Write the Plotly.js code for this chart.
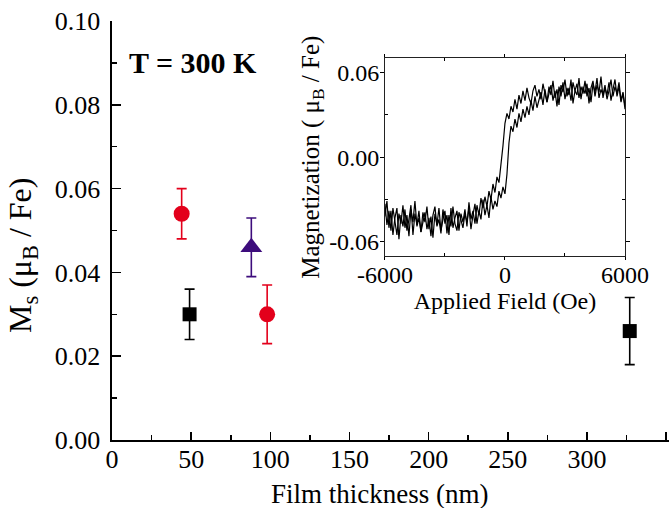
<!DOCTYPE html>
<html>
<head>
<meta charset="utf-8">
<script src="https://cdn.plot.ly/plotly-3.0.1.min.js"></script>
<style>
  html, body { margin: 0; padding: 0; background: #ffffff; overflow: hidden; }
  #chart { width: 669px; height: 508px; }
</style>
</head>
<body>
<div id="chart"></div>
<script>
// ---- Main panel data ----
const squareThickness = [49, 327];
const squareMs = [0.030, 0.026];
const squareErr = [0.006, 0.008];

const circleThickness = [44, 98];
const circleMs = [0.054, 0.030];
const circleErr = [0.006, 0.007];

const triangleThickness = [88];
const triangleMs = [0.046];
const triangleErrPlus = [0.007];
const triangleErrMinus = [0.007];

// ---- Inset: hysteresis loop M(H) ----
const field = [
  -6000,-5900,-5800,-5700,-5600,-5500,-5400,-5300,-5200,-5100,
  -5000,-4900,-4800,-4700,-4600,-4500,-4400,-4300,-4200,-4100,
  -4000,-3900,-3800,-3700,-3600,-3500,-3400,-3300,-3200,-3100,
  -3000,-2900,-2800,-2700,-2600,-2500,-2400,-2300,-2200,-2100,
  -2000,-1900,-1800,-1700,-1600,-1500,-1400,-1300,-1200,-1100,
  -1000,-900,-800,-700,-600,-500,-400,-300,-200,-100,
  0,100,200,300,400,500,600,700,800,900,
  1000,1100,1200,1300,1400,1500,1600,1700,1800,1900,
  2000,2100,2200,2300,2400,2500,2600,2700,2800,2900,
  3000,3100,3200,3300,3400,3500,3600,3700,3800,3900,
  4000,4100,4200,4300,4400,4500,4600,4700,4800,4900,
  5000,5100,5200,5300,5400,5500,5600,5700,5800,5900,
  6000
];
// branch swept upward (-6000 -> 6000)
const magUp = [
  -0.033,-0.048,-0.038,-0.052,-0.036,-0.045,-0.055,-0.040,-0.047,-0.034,
  -0.050,-0.041,-0.056,-0.037,-0.046,-0.031,-0.049,-0.043,-0.053,-0.039,
  -0.046,-0.035,-0.051,-0.042,-0.057,-0.040,-0.048,-0.036,-0.052,-0.044,
  -0.038,-0.054,-0.041,-0.049,-0.035,-0.047,-0.052,-0.039,-0.045,-0.050,
  -0.040,-0.046,-0.036,-0.051,-0.041,-0.033,-0.047,-0.038,-0.044,-0.030,
  -0.041,-0.034,-0.043,-0.028,-0.037,-0.031,-0.035,-0.024,-0.029,-0.021,
  -0.026,-0.012,0.010,0.022,0.018,0.027,0.021,0.031,0.025,0.034,
  0.028,0.036,0.030,0.040,0.033,0.043,0.035,0.041,0.046,0.037,
  0.048,0.039,0.045,0.051,0.040,0.047,0.036,0.050,0.043,0.053,
  0.041,0.049,0.044,0.055,0.038,0.047,0.052,0.042,0.050,0.045,
  0.054,0.043,0.049,0.039,0.052,0.046,0.056,0.042,0.048,0.044,
  0.051,0.041,0.047,0.055,0.043,0.050,0.045,0.053,0.040,0.046,
  0.036
];
// branch swept downward (listed at the same fields, -6000 -> 6000)
const magDown = [
  -0.042,-0.031,-0.050,-0.038,-0.055,-0.043,-0.036,-0.058,-0.041,-0.049,
  -0.037,-0.052,-0.044,-0.034,-0.055,-0.040,-0.048,-0.038,-0.053,-0.045,
  -0.039,-0.051,-0.043,-0.056,-0.041,-0.035,-0.049,-0.044,-0.054,-0.037,
  -0.047,-0.041,-0.055,-0.036,-0.050,-0.043,-0.038,-0.052,-0.040,-0.046,
  -0.037,-0.049,-0.032,-0.044,-0.038,-0.047,-0.034,-0.041,-0.029,-0.036,
  -0.028,-0.035,-0.024,-0.030,-0.019,-0.025,-0.014,-0.018,-0.007,0.008,
  0.024,0.031,0.027,0.036,0.032,0.041,0.034,0.044,0.038,0.047,
  0.040,0.049,0.042,0.038,0.047,0.051,0.043,0.048,0.041,0.052,
  0.045,0.039,0.050,0.044,0.054,0.042,0.048,0.037,0.051,0.046,
  0.055,0.043,0.049,0.040,0.053,0.047,0.044,0.056,0.041,0.050,
  0.045,0.052,0.038,0.049,0.054,0.043,0.051,0.046,0.057,0.042,
  0.049,0.044,0.053,0.040,0.048,0.055,0.043,0.050,0.039,0.045,
  0.034
];

const yTickVals = [0, 0.02, 0.04, 0.06, 0.08, 0.10];
const insetXTickVals = [-6000, 0, 6000];
const insetXTickText = ['-6000', '0', '6000'];
const insetYTickVals = [-0.06, 0, 0.06];
const insetYTickText = ['-0.06', '0.00', '0.06'];

const FONT = 'Liberation Serif, Times New Roman, serif';
const RED = '#e3001b';
const PURPLE = '#3d0c7c';

const traces = [
  {
    x: squareThickness, y: squareMs, type: 'scatter', mode: 'markers',
    marker: { symbol: 'square', size: 14, color: '#000000' },
    error_y: { type: 'data', array: squareErr, visible: true, color: '#000000', thickness: 1.6, width: 5 },
    xaxis: 'x', yaxis: 'y', showlegend: false
  },
  {
    x: circleThickness, y: circleMs, type: 'scatter', mode: 'markers',
    marker: { symbol: 'circle', size: 16, color: RED },
    error_y: { type: 'data', array: circleErr, visible: true, color: RED, thickness: 1.6, width: 5 },
    xaxis: 'x', yaxis: 'y', showlegend: false
  },
  {
    x: triangleThickness, y: triangleMs, type: 'scatter', mode: 'markers',
    marker: { symbol: 'triangle-up', size: 19, color: PURPLE },
    error_y: { type: 'data', symmetric: false, array: triangleErrPlus, arrayminus: triangleErrMinus, visible: true, color: PURPLE, thickness: 1.6, width: 5 },
    xaxis: 'x', yaxis: 'y', showlegend: false
  },
  {
    x: field, y: magUp, type: 'scatter', mode: 'lines',
    line: { color: '#000000', width: 1.2 },
    xaxis: 'x2', yaxis: 'y2', showlegend: false
  },
  {
    x: field, y: magDown, type: 'scatter', mode: 'lines',
    line: { color: '#000000', width: 1.2 },
    xaxis: 'x2', yaxis: 'y2', showlegend: false
  }
];

const baseAxis = {
  showgrid: false, zeroline: false, showline: true,
  linecolor: '#000000', tickcolor: '#000000',
  tickfont: { family: FONT, size: 24, color: '#000000' }
};
const mainTickFont = { family: FONT, size: 26, color: '#000000' };

const layout = {
  width: 669, height: 508,
  margin: { l: 112, r: 0, t: 21, b: 68, pad: 0 },
  paper_bgcolor: '#ffffff', plot_bgcolor: 'rgba(0,0,0,0)',
  font: { family: FONT, color: '#000000' },
  showlegend: false,
  xaxis: Object.assign({}, baseAxis, {
    domain: [0, 1], anchor: 'y', range: [0, 351.8],
    tickmode: 'linear', tick0: 0, dtick: 50,
    ticks: 'inside', ticklen: 8, tickwidth: 1.5, linewidth: 1.6,
    minor: { ticks: 'inside', ticklen: 5, tickwidth: 1.5, dtick: 25, tickcolor: '#000000' },
    tickfont: mainTickFont,
    ticklabelstandoff: -5
  }),
  xaxis3: Object.assign({}, baseAxis, {
    overlaying: 'x', side: 'top', anchor: 'y', range: [0, 351.8],
    tickmode: 'linear', tick0: 0, dtick: 25,
    ticks: 'inside', ticklen: 3, tickwidth: 1.2, linewidth: 1.6,
    showticklabels: false
  }),
  yaxis: Object.assign({}, baseAxis, {
    domain: [0, 1], anchor: 'x', range: [0, 0.1],
    tickmode: 'array', tickvals: yTickVals, tickformat: '.2f',
    ticks: 'inside', ticklen: 9, tickwidth: 1.5, linewidth: 1.6,
    minor: { ticks: 'inside', ticklen: 5, tickwidth: 1.5, dtick: 0.01, tickcolor: '#000000' },
    tickfont: mainTickFont,
    ticklabelstandoff: 5
  }),
  xaxis2: Object.assign({}, baseAxis, {
    domain: [0.490, 0.921], anchor: 'y2', range: [-6000, 6000],
    tickmode: 'array', tickvals: insetXTickVals, ticktext: insetXTickText,
    ticks: 'outside', ticklen: 3, tickwidth: 1, linewidth: 1, linecolor: '#222222',
    mirror: 'ticks',
    minor: { ticks: 'inside', ticklen: 3, tickwidth: 1, tickvals: [-3000, 3000], tickcolor: '#000000' },
    ticklabelstandoff: -6,
    title: { text: 'Applied Field (Oe)', font: { family: FONT, size: 24, color: '#000000' }, standoff: 0 }
  }),
  yaxis2: Object.assign({}, baseAxis, {
    domain: [0.439, 0.911], anchor: 'x2', range: [-0.07, 0.07],
    tickmode: 'array', tickvals: insetYTickVals, ticktext: insetYTickText,
    ticks: 'outside', ticklen: 4, tickwidth: 1, linewidth: 1, linecolor: '#222222',
    mirror: 'ticks',
    minor: { ticks: 'inside', ticklen: 3, tickwidth: 1, tickvals: [-0.03, 0.03], tickcolor: '#000000' },
    ticklabelstandoff: -4,
    title: { text: 'Magnetization ( μ<sub>B</sub> / Fe)', font: { family: FONT, size: 25, color: '#000000' }, standoff: 2 }
  }),
  annotations: [
    {
      text: 'M<sub>s</sub> (μ<sub>B</sub> / Fe)', xref: 'paper', yref: 'paper',
      x: -0.1616, y: 0.4415, xanchor: 'center', yanchor: 'middle',
      textangle: -90, showarrow: false,
      font: { family: FONT, size: 32, color: '#000000' }
    },
    {
      text: 'Film thickness (nm)', xref: 'paper', yref: 'paper',
      x: 0.481, y: -0.129, xanchor: 'center', yanchor: 'middle',
      showarrow: false,
      font: { family: FONT, size: 27, color: '#000000' }
    },
    {
      text: '<b>T = 300 K</b>', xref: 'paper', yref: 'paper',
      x: 0.1454, y: 0.902, xanchor: 'center', yanchor: 'middle',
      showarrow: false,
      font: { family: FONT, size: 30, color: '#000000' }
    }
  ]
};

Plotly.newPlot('chart', traces, layout, { staticPlot: true, displayModeBar: false });
</script>
</body>
</html>
